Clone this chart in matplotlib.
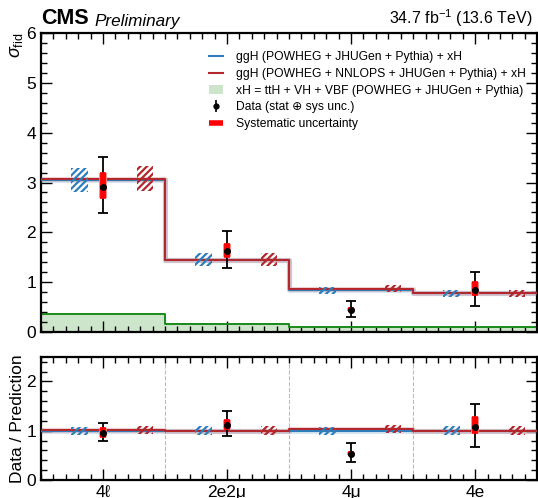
import numpy as np
import matplotlib
matplotlib.use("Agg")
import matplotlib.pyplot as plt
from matplotlib.patches import Rectangle, Patch
from matplotlib.lines import Line2D
from matplotlib.ticker import MultipleLocator

plt.rcParams['font.family'] = ['Liberation Sans', 'DejaVu Sans']
plt.rcParams['mathtext.fontset'] = 'custom'
plt.rcParams['mathtext.rm'] = 'Liberation Sans'
plt.rcParams['mathtext.it'] = 'Liberation Sans:italic'
plt.rcParams['hatch.linewidth'] = 1.6

# fiducial cross sections per final state
categories = ['4ℓ', '2e2μ', '4μ', '4e']
ggh_powheg = [3.05, 1.45, 0.84, 0.78]
ggh_nnlops = [3.08, 1.45, 0.87, 0.78]
xh_only = [0.37, 0.17, 0.11, 0.10]
unc_powheg = [0.25, 0.13, 0.07, 0.07]
unc_nnlops = [0.26, 0.13, 0.07, 0.07]
data = [2.92, 1.63, 0.45, 0.84]
err_lo = [0.53, 0.35, 0.15, 0.31]
err_hi = [0.59, 0.40, 0.18, 0.37]
sys_lo = [0.23, 0.12, 0.03, 0.10]
sys_hi = [0.28, 0.14, 0.03, 0.16]

blue = '#2f7ebc'
red = '#b3282d'

n = len(categories)
edges = np.arange(n + 1)
centers = edges[:-1] + 0.5

powheg = np.array(ggh_powheg)
nnlops = np.array(ggh_nnlops)
d = np.array(data)

fig = plt.figure(figsize=(5.38, 4.98), dpi=100)
ax = fig.add_axes([0.0762, 0.3333, 0.9222, 0.6004])
rax = fig.add_axes([0.0762, 0.0361, 0.9222, 0.2476])


def step(a, vals, color, lw=1.5, zorder=3):
    y = np.append(vals, vals[-1])
    a.step(edges, y, where='post', color=color, alpha=0.18, lw=lw + 2.2, zorder=zorder)
    a.step(edges, y, where='post', color=color, lw=lw, zorder=zorder + 0.1)


def boxes(a, vals, uncs, color, offset, w=0.13):
    for c, v, u in zip(centers, vals, uncs):
        a.add_patch(Rectangle((c + offset - w / 2, v - u), w, 2 * u, facecolor='none',
                              edgecolor=color, hatch='/////', lw=0, zorder=4))


def points(a, vals, lo, hi, slo, shi):
    a.errorbar(centers, vals, yerr=[lo, hi], fmt='none', ecolor='black', elinewidth=1.3,
               capsize=3.5, capthick=1.3, zorder=6)
    a.errorbar(centers, vals, yerr=[slo, shi], fmt='none', ecolor='#ff8080', elinewidth=5.6,
               capsize=0, zorder=6.5)
    a.errorbar(centers, vals, yerr=[slo, shi], fmt='none', ecolor='red', elinewidth=4.2,
               capsize=2.5, capthick=1.2, zorder=7)
    a.plot(centers, vals, 'o', color='black', ms=4, zorder=8)


# upper panel
xh = np.append(xh_only, xh_only[-1])
ax.fill_between(edges, 0, xh, step='post', color='#cde6cb', zorder=1)
ax.step(edges, xh, where='post', color='#1a8a1a', lw=1.4, zorder=2)
step(ax, powheg, blue)
step(ax, nnlops, red)
boxes(ax, powheg, unc_powheg, blue, -0.19)
boxes(ax, nnlops, unc_nnlops, red, 0.34)
points(ax, d, err_lo, err_hi, sys_lo, sys_hi)

ax.set_xlim(0, n)
ax.set_ylim(0, 6)
ax.set_xticks(centers)
ax.set_xticklabels([])
ax.set_ylabel(r'$\sigma_{\mathrm{fid}}$', fontsize=13, loc='top', labelpad=1)

data_h = ax.errorbar([], [], yerr=[], fmt='o', color='black', ms=3.5, capsize=2.5, elinewidth=1.2)
sys_h = Line2D([], [], color='red', lw=4, solid_capstyle='butt')
handles = [
    Line2D([], [], color=blue, lw=1.5),
    Line2D([], [], color=red, lw=1.5),
    Patch(facecolor='#cde6cb', edgecolor='none'),
    data_h,
    sys_h,
]
labels = [
    'ggH (POWHEG + JHUGen + Pythia) + xH',
    'ggH (POWHEG + NNLOPS + JHUGen + Pythia) + xH',
    'xH = ttH + VH + VBF (POWHEG + JHUGen + Pythia)',
    'Data (stat ⊕ sys unc.)',
    'Systematic uncertainty',
]
ax.legend(handles, labels, loc='upper right', frameon=False, fontsize=8.7,
          bbox_to_anchor=(1.0, 0.975), handlelength=1.2, labelspacing=0.38, handletextpad=1.1)

ax.text(0.0, 1.012, 'CMS', transform=ax.transAxes, fontsize=15.5, fontweight='bold',
        ha='left', va='bottom')
ax.text(0.108, 1.012, 'Preliminary', transform=ax.transAxes, fontsize=12.3, style='italic',
        ha='left', va='bottom')
ax.text(0.99, 1.012, r'34.7 fb$^{-1}$ (13.6 TeV)', transform=ax.transAxes, fontsize=11.5,
        ha='right', va='bottom')

# lower panel: ratio to ggH (POWHEG) + xH
ratio_nnlops = nnlops / powheg
step(rax, np.ones(n), blue)
step(rax, ratio_nnlops, red)
boxes(rax, np.ones(n), np.array(unc_powheg) / powheg, blue, -0.19)
boxes(rax, ratio_nnlops, np.array(unc_nnlops) / powheg, red, 0.34)
points(rax, d / powheg, np.array(err_lo) / powheg, np.array(err_hi) / powheg,
       np.array(sys_lo) / powheg, np.array(sys_hi) / powheg)
for e in edges[1:-1]:
    rax.axvline(e, color='#bbbbbb', ls='--', lw=0.8, zorder=0)

rax.set_xlim(0, n)
rax.set_ylim(0, 2.5)
rax.set_xticks(centers)
rax.set_xticklabels(categories, fontsize=12.5)
rax.set_ylabel('Data / Prediction', fontsize=12.5, labelpad=1)

for a in (ax, rax):
    a.yaxis.set_minor_locator(MultipleLocator(0.2))
    a.xaxis.set_minor_locator(MultipleLocator(0.1))
    a.tick_params(which='both', direction='in', top=True, right=True, labelsize=12.5)
    a.tick_params(which='major', length=8, width=1)
    a.tick_params(which='minor', length=4, width=1)
    for s in a.spines.values():
        s.set_linewidth(1.6)
rax.set_yticks([0, 1, 2])
ax.set_yticks(range(7))

fig.savefig('out.png', dpi=100)
